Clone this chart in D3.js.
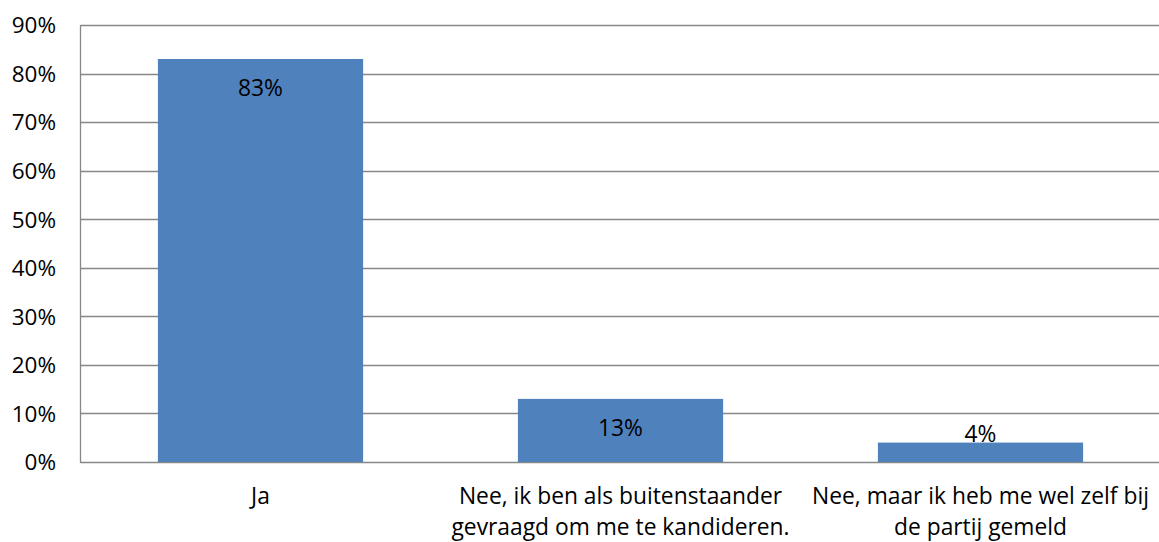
<!DOCTYPE html>
<html><head><meta charset="utf-8">
<script src="https://cdn.jsdelivr.net/npm/d3@7"></script>
<style>body{margin:0;background:#fff;} svg{display:block;} text{font-family:"Open Sans",sans-serif;}</style>
</head><body>
<svg id="c" width="1159" height="542"></svg>
<script>
const categories = ["Ja", "Nee, ik ben als buitenstaander|gevraagd om me te kandideren.", "Nee, maar ik heb me wel zelf bij|de partij gemeld"];
const values = [0.83, 0.13, 0.04];
const valueLabels = ["83%", "13%", "4%"];
const yTicks = [0, 0.1, 0.2, 0.3, 0.4, 0.5, 0.6, 0.7, 0.8, 0.9];

(function(){
const FS = 22.8;
const svg = d3.select("#c");
const mLeft = 80.5, mRight = 1160.5, mTop = 25, mBottom = 462;
const x = d3.scaleBand().domain(categories).range([mLeft, mRight]).paddingInner(0.43).paddingOuter(0.215);
const y = d3.scaleLinear().domain([0, 0.9]).range([mBottom, mTop]);

svg.append("g").selectAll("line").data(yTicks).join("line")
  .attr("x1", mLeft).attr("x2", mRight)
  .attr("y1", d => Math.round(y(d)) + 0.5).attr("y2", d => Math.round(y(d)) + 0.5)
  .attr("stroke", "#878787").attr("stroke-width", 1.3);

svg.append("g").selectAll("rect").data(values).join("rect")
  .attr("x", (d, i) => x(categories[i])).attr("width", x.bandwidth())
  .attr("y", d => y(d)).attr("height", d => y(0) - y(d))
  .attr("fill", "#4f81bd");

svg.append("line").attr("x1", mLeft).attr("x2", mLeft).attr("y1", mTop).attr("y2", Math.round(mBottom)+1)
  .attr("stroke", "#878787").attr("stroke-width", 1.3);

const yAxis = d3.axisLeft(y).tickValues(yTicks).tickFormat(d3.format(".0%")).tickSize(0).tickPadding(0);
const ga = svg.append("g").attr("transform", "translate(56,0)").call(yAxis);
ga.select(".domain").remove();
ga.selectAll("text").attr("font-size", 22.5).attr("fill", "#000").attr("font-family", "'Open Sans', sans-serif").attr("dy", "0.35em");

svg.append("g").selectAll("text").data(values).join("text")
  .attr("x", (d, i) => x(categories[i]) + x.bandwidth() / 2)
  .attr("y", (d, i) => d > 0.08 ? y(d) + 37.5 : y(d) - 1)
  .attr("text-anchor", "middle").attr("font-size", FS).attr("fill", "#000")
  .text((d, i) => valueLabels[i]);

const cg = svg.append("g");
categories.forEach((c, i) => {
  const lines = c.split("|");
  const t = cg.append("text").attr("text-anchor", "middle").attr("font-size", FS).attr("fill", "#000");
  lines.forEach((ln, j) => {
    t.append("tspan").attr("x", x(c) + x.bandwidth() / 2).attr("y", 504 + j * 31).text(ln);
  });
});
})();
</script>
</body></html>
